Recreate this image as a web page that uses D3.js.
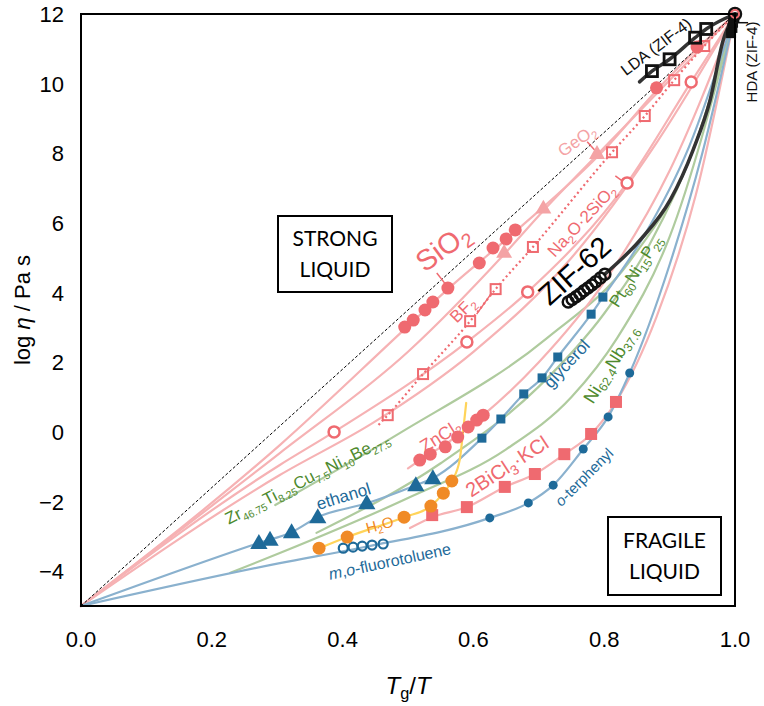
<!DOCTYPE html>
<html><head><meta charset="utf-8">
<script src="https://cdn.jsdelivr.net/npm/d3@7"></script>
<style>body{margin:0;background:#fff}svg{display:block}</style>
</head><body>
<svg id="chart" width="764" height="706"></svg>
<script>
// ---------- tick labels ----------
const xTicks = [0, 0.2, 0.4, 0.6, 0.8, 1.0];
const yTicks = [-4, -2, 0, 2, 4, 6, 8, 10, 12];

// ---------- reference line (strong limit) ----------
const strongLimit = [[0, -5], [1, 12]];

// ---------- pink (oxide / halide) series ----------
const sio2Curve = [[0,-5],[0.304,-0.38],[0.495,2.95],[0.561,4.1],[0.664,5.75],[0.8,8.1],[0.88,9.8],[0.942,11.0],[1,12]];
const sio2Pts = [[0.495,3.01],[0.508,3.21],[0.526,3.50],[0.538,3.73],[0.561,4.13],[0.609,4.85],[0.630,5.28],[0.650,5.54],[0.664,5.80],[0.88,9.88],[0.942,11.05]];
const geo2Curve = [[0,-5],[0.304,-0.61],[0.5,2.3],[0.647,5.1],[0.707,6.35],[0.789,7.95],[0.9,10.1],[1,12]];
const geo2Pts = [[0.647,5.16],[0.707,6.43],[0.789,8.0]];
const na2oCurve = [[0,-5],[0.304,-0.95],[0.387,0.0],[0.590,2.58],[0.683,4.02],[0.835,7.15],[0.933,10.05],[1,12]];
const na2oPts = [[0.387,0.0],[0.590,2.58],[0.683,4.02],[0.835,7.15],[0.933,10.05]];
const pinkFanCurve = [[0,-5],[0.304,-1.24],[0.45,0.3],[0.6,2.3],[0.75,5.0],[0.88,8.3],[1,12]];
const bef2Curve = [[0.455,0.2],[0.469,0.48],[0.523,1.66],[0.595,3.18],[0.634,4.10],[0.691,5.31],[0.812,8.03],[0.862,9.07],[0.907,10.1],[0.953,11.08],[1,12]];
const bef2Pts = [[0.469,0.48],[0.523,1.66],[0.595,3.18],[0.634,4.10],[0.691,5.31],[0.812,8.03],[0.862,9.07],[0.907,10.1],[0.953,11.08]];
const zncl2Curve = [[0.50,-1.05],[0.518,-0.81],[0.557,-0.36],[0.615,0.48],[0.7,2.0],[0.8,4.3],[0.9,7.5],[1,12]];
const zncl2Pts = [[0.518,-0.81],[0.534,-0.64],[0.557,-0.43],[0.576,-0.15],[0.592,0.14],[0.605,0.34],[0.615,0.48]];
const bicl3Curve = [[0.503,-2.76],[0.537,-2.45],[0.590,-2.16],[0.648,-1.58],[0.694,-1.21],[0.739,-0.64],[0.780,-0.06],[0.818,0.86],[0.88,3.3],[0.94,6.8],[1,12]];
const bicl3Pts = [[0.537,-2.39],[0.590,-2.16],[0.648,-1.58],[0.694,-1.21],[0.739,-0.64],[0.780,-0.06],[0.818,0.86]];

// ---------- blue (molecular) series ----------
const ethanolCurve = [[0,-5],[0.272,-3.19],[0.322,-2.88],[0.362,-2.45],[0.437,-2.05],[0.512,-1.53],[0.538,-1.33],[0.613,-0.18],[0.642,0.37],[0.677,1.09],[0.705,1.55],[0.729,2.15],[0.780,3.38],[0.798,3.87],[0.86,5.6],[0.93,8.2],[1,12]];
const ethanolPts = [[0.272,-3.19],[0.289,-3.10],[0.322,-2.88],[0.362,-2.45],[0.437,-2.05],[0.512,-1.53],[0.538,-1.33]];
const glycerolPts = [[0.613,-0.18],[0.642,0.37],[0.677,1.09],[0.705,1.55],[0.729,2.15],[0.780,3.38],[0.798,3.87]];
const terphenylCurve = [[0,-5],[0.304,-3.77],[0.43,-3.32],[0.625,-2.47],[0.684,-2.04],[0.722,-1.53],[0.768,-0.49],[0.806,0.43],[0.839,1.69],[0.9,4.8],[0.95,8.0],[1,12]];
const terphenylPts = [[0.625,-2.47],[0.684,-2.04],[0.722,-1.53],[0.768,-0.49],[0.806,0.43],[0.839,1.69]];
const fluorotoluenePts = [[0.401,-3.34],[0.416,-3.31],[0.430,-3.28],[0.445,-3.25],[0.462,-3.22]];

// ---------- orange (water) ----------
const waterCurve = [[0.362,-3.36],[0.407,-3.02],[0.494,-2.45],[0.535,-2.13],[0.554,-1.76],[0.567,-1.41],[0.579,-0.81],[0.584,-0.03],[0.589,0.83]];
const waterPts = [[0.364,-3.34],[0.407,-3.02],[0.494,-2.45],[0.535,-2.13],[0.554,-1.76],[0.567,-1.41]];

// ---------- green (metallic) ----------
const zrCurve = [[0.297,-2.1],[0.488,-0.03],[0.713,2.7],[0.839,4.9],[0.93,7.8],[1,12]];
const ptCurve = [[0.36,-2.9],[0.55,-0.9],[0.7,1.3],[0.8,3.4],[0.87,5.4],[0.94,8.3],[1,12]];
const niCurve = [[0.228,-4.05],[0.304,-3.48],[0.5,-1.9],[0.65,-0.5],[0.75,1.0],[0.82,2.7],[0.9,5.6],[1,12]];

// ---------- ZIF ----------
const zif62Curve = [[0.801,4.53],[0.855,5.51],[0.901,6.66],[0.936,8.1],[0.962,9.53],[0.982,11.25],[1,12]];
const zif62Pts = [[0.745,3.73],[0.751,3.80],[0.757,3.88],[0.763,3.96],[0.769,4.05],[0.775,4.13],[0.781,4.22],[0.787,4.31],[0.794,4.42],[0.801,4.53]];
const ldaCurve = [[0.854,10.05],[0.873,10.36],[0.90,10.7],[0.939,11.32],[0.956,11.57],[1,12]];
const ldaPts = [[0.873,10.36],[0.90,10.7],[0.939,11.32],[0.956,11.57]];
const hdaPts = [[0.994,11.45],[0.996,11.6],[0.997,11.75],[0.999,11.9]];
const endPt = [[1,12]];

// ---------- drawing ----------
const x = d3.scaleLinear().domain([0, 1]).range([81, 735]);
const y = d3.scaleLinear().domain([-5, 12]).range([606, 14]);
const svg = d3.select('#chart');
const FONT = "'Liberation Sans', Arial, sans-serif";
svg.attr('font-family', FONT);

const PINK = '#EF6A70', PINKL = '#F6B2B4', PINKT = '#F4A3A5';
const BLUE = '#1E6A99', BLUEL = '#8AB1CE';
const GREEN = '#4E8A2E', GREENL = '#AFCB9E';
const ORANGE = '#F08A26', YELLOW = '#FFD45A';

const line = d3.line().x(d => x(d[0])).y(d => y(d[1])).curve(d3.curveMonotoneX);
const plot = svg.append('g');

function curve(data, color, w, dash) {
  const p = plot.append('path').attr('d', line(data)).attr('fill', 'none')
    .attr('stroke', color).attr('stroke-width', w).attr('stroke-linecap', 'round');
  if (dash) p.attr('stroke-dasharray', dash).attr('stroke-linecap', 'butt');
  return p;
}
function dots(data, r, fill, stroke, sw) {
  plot.append('g').selectAll('circle').data(data).join('circle')
    .attr('cx', d => x(d[0])).attr('cy', d => y(d[1])).attr('r', r)
    .attr('fill', fill).attr('stroke', stroke || 'none').attr('stroke-width', sw || 0);
}
function squares(data, s, fill, stroke, sw) {
  plot.append('g').selectAll('rect').data(data).join('rect')
    .attr('x', d => x(d[0]) - s / 2).attr('y', d => y(d[1]) - s / 2)
    .attr('width', s).attr('height', s)
    .attr('fill', fill).attr('stroke', stroke || 'none').attr('stroke-width', sw || 0);
}
function tris(data, s, fill) {
  const sym = d3.symbol().type(d3.symbolTriangle).size(s);
  plot.append('g').selectAll('path').data(data).join('path')
    .attr('transform', d => `translate(${x(d[0])},${y(d[1]) + 1})`)
    .attr('d', sym).attr('fill', fill);
}

// light curves
curve(niCurve, GREENL, 2.2);
curve(ptCurve, GREENL, 2.2);
curve(zrCurve, GREENL, 2.2);
curve(sio2Curve, PINKL, 2.2);
curve(geo2Curve, PINKL, 2.2);
curve(na2oCurve, PINKL, 2.2);
curve(pinkFanCurve, PINKL, 2.2);
curve(zncl2Curve, PINKL, 2.2);
curve(bicl3Curve, PINKL, 2.2);
curve(terphenylCurve, BLUEL, 2.2);
curve(ethanolCurve, BLUEL, 2.2);
curve(waterCurve, YELLOW, 2.2);
curve(bef2Curve, PINK, 2.2, '2,3');
curve(strongLimit, '#000', 1, '3,2');
curve(zif62Curve, '#333', 3.5);
curve(ldaCurve, '#333', 3.5);

// markers
dots(sio2Pts, 6.5, PINK);
tris(geo2Pts, 110, PINKT);
dots(na2oPts, 5.5, '#fff', PINK, 2.5);
squares(bef2Pts, 10, 'none', PINK, 2);
dots(zncl2Pts, 6.5, PINK);
squares(bicl3Pts, 12, PINK);
tris(ethanolPts, 130, BLUE);
squares(glycerolPts, 9, BLUE);
dots(terphenylPts, 4.5, BLUE);
dots(fluorotoluenePts, 4.5, 'none', BLUE, 2.2);
dots(waterPts, 6.5, ORANGE);
dots(zif62Pts, 5.5, 'none', '#111', 2.5);
squares(ldaPts, 11, 'none', '#111', 2.8);
squares(hdaPts, 10, '#111');
dots(endPt, 6, 'none', '#111', 2.5);
dots(endPt, 4, 'none', PINK, 2);

// frame
svg.append('rect').attr('x', 81).attr('y', 14).attr('width', 654).attr('height', 592)
  .attr('fill', 'none').attr('stroke', '#000').attr('stroke-width', 2);

// ticks
svg.append('g').selectAll('text').data(xTicks).join('text')
  .attr('x', d => x(d)).attr('y', 647).attr('text-anchor', 'middle')
  .attr('font-size', 22).text(d => d.toFixed(1));
svg.append('g').selectAll('text').data(yTicks).join('text')
  .attr('x', 64).attr('y', d => y(d) + 8).attr('text-anchor', 'end')
  .attr('font-size', 22).text(d => d < 0 ? '\u2212' + Math.abs(d) : d);

// rich text helper
function rich(px, py, rot, parts, size, color, opts) {
  opts = opts || {};
  const t = svg.append('text').attr('transform', `translate(${px},${py}) rotate(${rot})`)
    .attr('text-anchor', opts.anchor || 'middle').attr('font-size', size)
    .attr('fill', color).attr('dominant-baseline', 'middle');
  let down = false;
  const sh = size * 0.3;
  parts.forEach(p => {
    const ts = t.append('tspan').text(p[0]);
    const kind = p[1] || '';
    if (kind.includes('i')) ts.attr('font-style', 'italic');
    if (kind.includes('s')) {
      ts.attr('font-size', size * (opts.subScale || 0.68));
      if (!down) { ts.attr('dy', sh); down = true; }
    } else if (down) { ts.attr('dy', -sh); down = false; }
  });
  return t;
}

// axis titles
rich(24, 310, -90, [['log '], ['\u03b7', 'i'], [' / Pa s']], 22, '#000');
rich(408, 688, 0, [['T', 'i'], ['g', 's'], ['/'], ['T', 'i']], 24, '#000');

// region boxes
function box(x0, y0, x1, y1, l1, l2) {
  svg.append('rect').attr('x', x0).attr('y', y0).attr('width', x1 - x0).attr('height', y1 - y0)
    .attr('fill', '#fff').attr('stroke', '#000').attr('stroke-width', 2);
  const cx = (x0 + x1) / 2, cy = (y0 + y1) / 2;
  svg.append('text').attr('x', cx).attr('y', cy - 8).attr('text-anchor', 'middle')
    .attr('font-family', "Lato, 'Open Sans', sans-serif").attr('font-size', 21).text(l1);
  svg.append('text').attr('x', cx).attr('y', cy + 23).attr('text-anchor', 'middle')
    .attr('font-family', "Lato, 'Open Sans', sans-serif").attr('font-size', 21).text(l2);
}
box(278, 216, 392, 292, 'STRONG', 'LIQUID');
box(608, 517, 721, 595, 'FRAGILE', 'LIQUID');

// pointer lines
function pointer(a, b, color, w) {
  svg.append('line').attr('x1', x(a[0])).attr('y1', y(a[1])).attr('x2', x(b[0])).attr('y2', y(b[1]))
    .attr('stroke', color).attr('stroke-width', w || 1.5);
}
pointer([0.544, 4.56], [0.557, 4.25], PINK);
pointer([0.774, 8.33], [0.785, 8.1], PINK);
pointer([0.817, 7.35], [0.828, 7.2], PINK);
pointer([0.605, 3.38], [0.628, 3.99], PINK);
pointer([1.0, 11.75], [1.02, 11.75], '#111');

// labels
rich(444, 249, -36, [['SiO'], ['2', 's']], 29, PINK);
rich(578, 142, -35, [['GeO'], ['2', 's']], 17, PINKT);
rich(583, 222, -47, [['Na'], ['2', 's'], ['O\u00b72SiO'], ['2', 's']], 17, PINK);
rich(464, 311, -45, [['BF'], ['2', 's']], 17, PINK);
rich(576, 272, -42, [['ZIF-62']], 29, '#000');
rich(637, 272, -57, [['Pt'], ['60', 's'], ['Ni'], ['15', 's'], ['P'], ['25', 's']], 17, GREEN);
rich(612, 365, -58, [['Ni'], ['62.4', 's'], ['Nb'], ['37.6', 's']], 18, GREEN);
rich(568, 365, -47, [['glycerol']], 17, BLUE);
rich(585, 478, -45, [['o', 'i'], ['-terphenyl']], 15, BLUE);
rich(508, 468, -33, [['2BiCl'], ['3', 's'], ['\u00b7KCl']], 20, PINK);
rich(441, 437, -32, [['ZnCl'], ['2', 's']], 18, PINK);
rich(344, 498, -17, [['ethanol']], 17, BLUE);
rich(380, 526, -15, [['H'], ['2', 's'], ['O']], 15, ORANGE);
rich(390, 563, -12, [['m', 'i'], [','], ['o', 'i'], ['-fluorotoluene']], 16, BLUE);
rich(308, 480, -27, [['Zr'], ['46.75', 's'], ['Ti'], ['8.25', 's'], ['Cu'], ['7.5', 's'], ['Ni'], ['10', 's'], ['Be'], ['27.5', 's']], 17, GREEN, {subScale: 0.62});
rich(657, 48, -37, [['LDA (ZIF-4)']], 16, '#111');
rich(753, 62, -90, [['HDA (ZIF-4)']], 15, '#111');
</script>
</body></html>
